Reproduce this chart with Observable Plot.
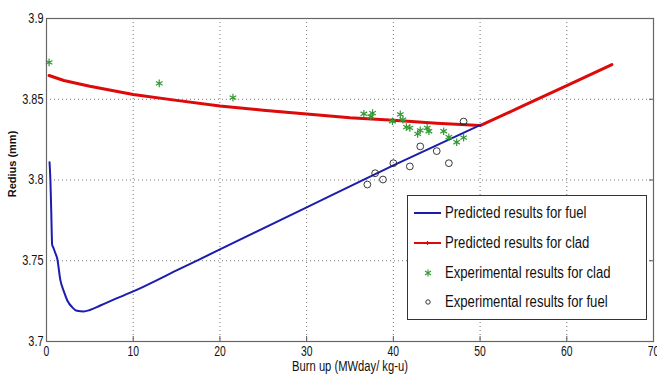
<!DOCTYPE html>
<html>
<head>
<meta charset="utf-8">
<script src="https://cdn.jsdelivr.net/npm/d3@7"></script>
<script src="https://cdn.jsdelivr.net/npm/@observablehq/plot@0.6"></script>
<style>
  body { margin: 0; background: #fff; }
  #wrap { position: relative; width: 657px; height: 382px; overflow: hidden; font-family: "Liberation Sans", Arial, sans-serif; }
  #xlabel { position: absolute; left: 0; width: 700px; top: 360px; text-align: center; font-size: 14px; line-height: 13px; color: #111;
            transform: scaleX(0.8); transform-origin: 350px 0; }
  #ylabel { position: absolute; left: 12px; top: 164px; transform: translate(-50%, -50%) rotate(-90deg); white-space: nowrap;
            font-weight: bold; font-size: 11px; color: #111; }
  #legend { position: absolute; left: 407px; top: 195px; width: 238px; height: 123px; border: 1px solid #333; background: #fff; }
  .row { position: absolute; left: 0; height: 20px; width: 238px; }
  .row svg { position: absolute; left: 4px; top: 0; }
  .row span { position: absolute; left: 37px; top: 0; font-size: 16px; line-height: 20px; color: #111; white-space: nowrap;
              transform: scaleX(0.82); transform-origin: 0 0; }
</style>
</head>
<body>
<div id="wrap">
  <div id="chart"></div>
  <div id="xlabel">Burn up (MWday/ kg-u)</div>
  <div id="ylabel">Redius (mm)</div>
  <div id="legend"></div>
</div>
<script>
// ---- data ----
const fuelX = [0.35, 0.45, 0.55, 0.65, 0.8, 1.0, 1.23, 1.6, 2.0, 2.4, 3.0, 3.5, 4.3, 5.0, 6.2, 8, 10, 15, 20, 30, 40, 50];
const fuelY = [3.811, 3.800, 3.780, 3.760, 3.758, 3.755, 3.7515, 3.738, 3.731, 3.7254, 3.721, 3.719, 3.7186, 3.7195, 3.7223, 3.7265, 3.731, 3.744, 3.757, 3.783, 3.809, 3.834];

const cladX = [0.3, 2, 5, 10, 15, 20, 25, 30, 35, 40, 45, 50, 55, 60, 65.2];
const cladY = [3.8647, 3.8616, 3.858, 3.853, 3.8493, 3.8458, 3.8432, 3.8408, 3.8385, 3.837, 3.8352, 3.8337, 3.846, 3.8585, 3.8715];

const expCladX = [0.3, 13.0, 21.5, 36.6, 37.4, 37.6, 39.9, 40.8, 41.1, 41.5, 41.9, 42.8, 43.1, 43.9, 44.1, 45.8, 46.4, 47.3, 48.1];
const expCladY = [3.8728, 3.8598, 3.851, 3.841, 3.8393, 3.8414, 3.8364, 3.8406, 3.8373, 3.8327, 3.8323, 3.8286, 3.8307, 3.8323, 3.8302, 3.8302, 3.8265, 3.8234, 3.8262];

const expFuelX = [37.0, 37.9, 38.8, 40.0, 41.9, 43.1, 45.0, 46.4, 48.1];
const expFuelY = [3.7972, 3.8042, 3.8003, 3.8104, 3.8084, 3.8208, 3.8179, 3.8104, 3.8362];

const xTicks = [0, 10, 20, 30, 40, 50, 60, 70];
const yTicks = [3.7, 3.75, 3.8, 3.85, 3.9];
const xGrid = [10, 20, 30, 40, 50, 60];
const yGrid = [3.75, 3.8, 3.85];

const seriesNames = ["Predicted results for fuel", "Predicted results for clad", "Experimental results for clad", "Experimental results for fuel"];

// ---- build tables ----
const fuel = fuelX.map((x, i) => ({x, y: fuelY[i]}));
const clad = cladX.map((x, i) => ({x, y: cladY[i]}));
const expClad = expCladX.map((x, i) => ({x, y: expCladY[i]}));
const expFuel = expFuelX.map((x, i) => ({x, y: expFuelY[i]}));

const BLUE = "#1c1cb0", RED = "#dd0a0a", GREEN = "#339933";

const chart = Plot.plot({
  width: 657,
  height: 382,
  marginLeft: 46,
  marginRight: 4,
  marginTop: 18,
  marginBottom: 41,
  style: {fontFamily: '"Liberation Sans", Arial, sans-serif', fontSize: "14px", color: "#111", background: "#fff"},
  x: {domain: [0, 70], ticks: xTicks},
  y: {domain: [3.7, 3.9], ticks: yTicks},
  marks: [
    Plot.gridX(xGrid, {stroke: "#777", strokeOpacity: 1, strokeDasharray: "1,3"}),
    Plot.gridY(yGrid, {stroke: "#777", strokeOpacity: 1, strokeDasharray: "1,3"}),
    Plot.axisX(xTicks, {tickSize: 0, tickPadding: 5, label: null, tickFormat: d => String(d), fontSize: 14, ariaLabel: "xticklabels"}),
    Plot.axisX(xTicks, {tickSize: -5, text: null, stroke: "#555", label: null}),
    Plot.axisY(yTicks, {tickSize: 0, tickPadding: 3, label: null, tickFormat: d => String(d), fontSize: 14, ariaLabel: "yticklabels"}),
    Plot.axisY(yTicks, {anchor: "right", tickSize: -5, text: null, stroke: "#555", label: null}),
    Plot.line(clad, {x: "x", y: "y", stroke: RED, strokeWidth: 3}),
    Plot.line(fuel, {x: "x", y: "y", stroke: BLUE, strokeWidth: 2, curve: "monotone-x"}),
    Plot.dot(expClad, {x: "x", y: "y", symbol: "asterisk", r: 3.6, stroke: GREEN, strokeWidth: 1.2}),
    Plot.dot(expFuel, {x: "x", y: "y", symbol: "circle", r: 3.4, stroke: "#222", strokeWidth: 0.9, fill: "none"}),
    Plot.frame({stroke: "#666", strokeWidth: 1.2})
  ]
});
document.getElementById("chart").appendChild(chart);

// condense tick label glyphs horizontally (narrow look of the original)
chart.querySelectorAll("text").forEach(t => {
  const g = t.closest("g");
  const lab = g ? (g.getAttribute("aria-label") || "") : "";
  let k = null;
  if (lab.includes("xticklabels")) k = 0.74;
  else if (lab.includes("yticklabels")) k = 0.78;
  if (k) {
    const len = t.getComputedTextLength();
    t.setAttribute("textLength", (len * k).toFixed(2));
    t.setAttribute("lengthAdjust", "spacingAndGlyphs");
  }
});

// ---- legend ----
const legend = document.getElementById("legend");
const swatches = [
  `<line x1="2" y1="10" x2="29" y2="10" stroke="${BLUE}" stroke-width="2"/>`,
  `<line x1="2" y1="10" x2="29" y2="10" stroke="${RED}" stroke-width="2"/><path d="M15.5,8 V12 M13.5,10 H17.5" stroke="${RED}" stroke-width="1.2"/>`,
  `<path d="M16,6.5 V13.5 M13,8 L19,12 M13,12 L19,8" stroke="${GREEN}" stroke-width="1.1" fill="none"/>`,
  `<circle cx="16" cy="10" r="2.2" stroke="#222" stroke-width="0.9" fill="none"/>`
];
const rowTops = [7, 37, 67, 96];
seriesNames.forEach((name, i) => {
  const row = document.createElement("div");
  row.className = "row";
  row.style.top = rowTops[i] + "px";
  row.innerHTML = `<svg width="32" height="20">${swatches[i]}</svg><span>${name}</span>`;
  legend.appendChild(row);
});
</script>
</body>
</html>
